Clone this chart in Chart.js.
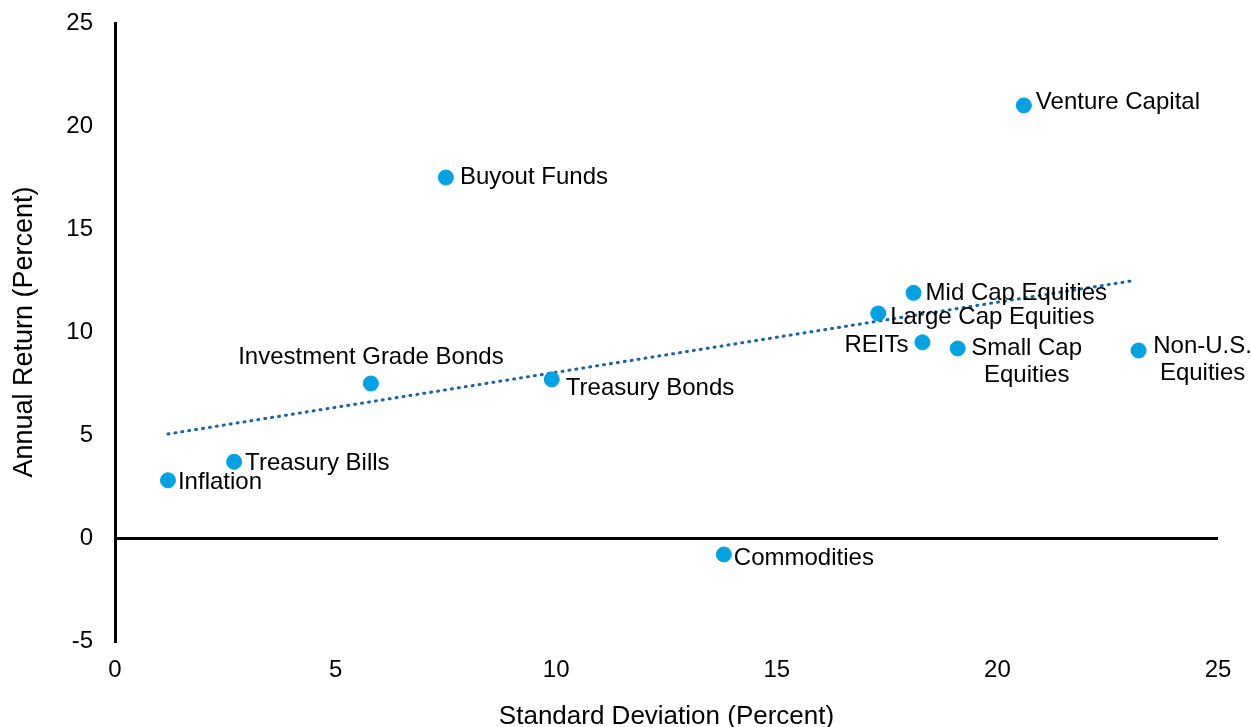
<!DOCTYPE html>
<html>
<head>
<meta charset="utf-8">
<script src="https://cdn.jsdelivr.net/npm/chart.js@4.4.1/dist/chart.umd.min.js"></script>
<style>
  html, body { margin: 0; padding: 0; background: #fff; }
  #wrap { width: 1251px; height: 727px; position: relative; }
</style>
</head>
<body>
<div id="wrap"><canvas id="myChart"></canvas></div>
<script>
  // asset classes
  const assetNames = [
    "Inflation",
    "Treasury Bills",
    "Investment Grade Bonds",
    "Buyout Funds",
    "Treasury Bonds",
    "Commodities",
    "Large Cap Equities",
    "Mid Cap Equities",
    "REITs",
    "Small Cap Equities",
    "Venture Capital",
    "Non-U.S. Equities",
  ];
  // standard deviation (percent)
  const stdDev = [1.2, 2.7, 5.8, 7.5, 9.9, 13.8, 17.3, 18.1, 18.3, 19.1, 20.6, 23.2];
  // annual return (percent)
  const annualReturn = [2.8, 3.7, 7.5, 17.5, 7.7, -0.8, 10.9, 11.9, 9.5, 9.2, 21.0, 9.1];
  // linear trendline end points
  const trendX = [1.2, 23.1];
  const trendY = [5.05, 12.5];
  const xTicks = [0, 5, 10, 15, 20, 25];
  const yTicks = [-5, 0, 5, 10, 15, 20, 25];

  // how each label sits next to its point: [align, dx, dy, lines]
  const labelPlacement = {
    "Inflation": ["left", 10, 2],
    "Treasury Bills": ["left", 11, 2],
    "Investment Grade Bonds": ["center", 0, -26],
    "Buyout Funds": ["left", 14, 0],
    "Treasury Bonds": ["left", 14, 9],
    "Commodities": ["left", 10, 4],
    "Large Cap Equities": ["left", 12, 4],
    "Mid Cap Equities": ["left", 12, 1],
    "REITs": ["right", -14, 3],
    "Small Cap Equities": ["center", 69, 0, ["Small Cap", "Equities"]],
    "Venture Capital": ["left", 12, -3],
    "Non-U.S. Equities": ["center", 64, -4, ["Non-U.S.", "Equities"]],
  };

  const FONT = "'Liberation Sans', Arial, sans-serif";

  const pointLabels = {
    id: "pointLabels",
    afterDatasetsDraw(chart) {
      const { ctx, scales } = chart;
      ctx.save();
      ctx.font = "24px " + FONT;
      ctx.fillStyle = "#000";
      ctx.textBaseline = "middle";
      assetNames.forEach((name, i) => {
        const px = scales.x.getPixelForValue(stdDev[i]);
        const py = scales.y.getPixelForValue(annualReturn[i]);
        const p = labelPlacement[name];
        const lines = p[3] || [name];
        ctx.textAlign = p[0];
        lines.forEach((line, j) => {
          ctx.fillText(line, px + p[1], py + p[2] + j * 27);
        });
      });
      ctx.restore();
    },
  };

  const ctx = document.getElementById("myChart");
  const myChart = new Chart(ctx, {
    type: "scatter",
    data: {
      datasets: [
        {
          label: "Trend",
          type: "line",
          data: trendX.map((x, i) => ({ x: x, y: trendY[i] })),
          borderColor: "#1565A8",
          borderWidth: 3,
          borderDash: [1, 6],
          borderCapStyle: "round",
          pointRadius: 0,
          fill: false,
          order: 2,
        },
        {
          label: "Assets",
          data: stdDev.map((x, i) => ({ x: x, y: annualReturn[i] })),
          backgroundColor: "#00A2E3",
          borderColor: "#00A2E3",
          pointRadius: 7.5,
          pointHoverRadius: 7.5,
          order: 1,
        },
      ],
    },
    options: {
      responsive: true,
      maintainAspectRatio: false,
      animation: false,
      layout: { padding: { top: 23, right: 33, left: 0, bottom: 0 } },
      plugins: {
        legend: { display: false },
        tooltip: { enabled: false },
      },
      scales: {
        x: {
          type: "linear",
          min: 0,
          max: 25,
          afterBuildTicks: (s) => { s.ticks = xTicks.map((v) => ({ value: v })); },
          afterFit: (s) => { s.height = 86; s.paddingLeft = 0; s.paddingRight = 0; },
          grid: { display: false },
          border: { display: false },
          ticks: { color: "#000", padding: 7, font: { family: FONT, size: 24 } },
          title: {
            display: true,
            text: "Standard Deviation (Percent)",
            color: "#000",
            padding: { top: 0, bottom: 0 },
            font: { family: FONT, size: 26, lineHeight: 0.82 },
          },
        },
        y: {
          type: "linear",
          min: -5,
          max: 25,
          afterBuildTicks: (s) => { s.ticks = yTicks.map((v) => ({ value: v })); },
          afterFit: (s) => { s.width = 115; s.paddingTop = 0; s.paddingBottom = 0; },
          grid: {
            drawTicks: false,
            color: (c) => (c.tick && c.tick.value === 0 ? "#000" : "rgba(0,0,0,0)"),
            lineWidth: 3,
          },
          border: { display: true, color: "#000", width: 3 },
          ticks: { color: "#000", padding: 22, font: { family: FONT, size: 24 } },
          title: {
            display: true,
            text: "Annual Return (Percent)",
            color: "#000",
            padding: { top: 8, bottom: 0 },
            font: { family: FONT, size: 27 },
          },
        },
      },
    },
    plugins: [pointLabels],
  });
</script>
</body>
</html>
